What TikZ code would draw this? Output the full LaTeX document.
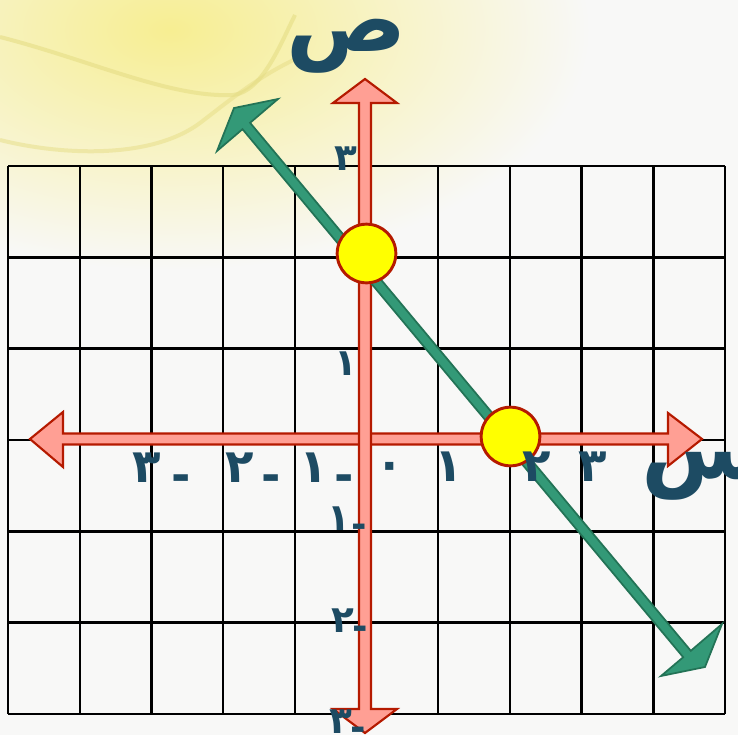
\documentclass[tikz,border=0pt]{standalone}
\usepackage{fontspec}
\newfontfamily\arabicfont[Script=Arabic]{DejaVu Sans}
\TeXXeTstate=1
\definecolor{bg}{HTML}{F8F8F7}
\definecolor{txt}{HTML}{1D4B63}
\definecolor{axred}{HTML}{B51A00}
\definecolor{axfill}{HTML}{FF9F94}
\definecolor{grn}{HTML}{339977}
\definecolor{grnd}{HTML}{237356}
\definecolor{ylw}{HTML}{FFFF00}
\definecolor{wash}{HTML}{F7EE92}
\definecolor{washline}{HTML}{E6DD85}
\newcommand\negbar{\raisebox{-0.2em}{-}}
\begin{document}
\begin{tikzpicture}[x=0.75pt,y=-0.75pt,
  gridline/.style={black,line width=1.8pt},
  axis/.style={fill=axfill,draw=axred,line width=1.6pt,line join=miter},
  slope/.style={fill=grn,draw=grnd,line width=1.3pt,line join=miter},
  dot/.style={circle,fill=ylw,draw=axred,line width=2.2pt,minimum size=44pt,inner sep=0pt},
  numx/.style={text=txt,font=\arabicfont\bfseries\fontsize{35}{35}\selectfont,inner sep=0pt},
  numy/.style={text=txt,font=\arabicfont\bfseries\fontsize{28}{28}\selectfont,inner sep=0pt},
  big/.style={text=txt,font=\arabicfont\bfseries\fontsize{67}{67}\selectfont,inner sep=0pt}]
\useasboundingbox (0,0) rectangle (738,735);
\fill[bg] (0,0) rectangle (738,735);
% yellow wash in the top-left corner
\begin{scope}
\clip (0,0) rectangle (738,735);
\shade[inner color=wash, outer color=bg] (170,30) ellipse [x radius=420, y radius=240];
\draw[washline, line width=3pt, opacity=0.6] (0,37) .. controls (90,60) and (170,98) .. (233,95) .. controls (262,92) and (280,45) .. (295,15);
\draw[washline, line width=3pt, opacity=0.5] (0,140) .. controls (60,155) and (150,160) .. (200,123) .. controls (230,100) and (260,75) .. (300,57);
\end{scope}
% grid
\foreach \i in {0,...,10} \draw[gridline] ({8+71.7*\i},166) -- ({8+71.7*\i},714);
\foreach \j in {0,...,6} \draw[gridline] (8,{166+91.33*\j}) -- (725,{166+91.33*\j});
% axes
\draw[axis] (30,439) -- (63,412) -- (63,433.5) -- (668,433.5) -- (668,413) -- (702,439)
  -- (668,466) -- (668,444.5) -- (63,444.5) -- (63,467) -- cycle;
\draw[axis] (365,79) -- (397,103) -- (371,103) -- (371,709) -- (397,709) -- (365,733)
  -- (333,709) -- (359,709) -- (359,103) -- (333,103) -- cycle;
% line
\draw[slope] (234,108) -- (278,99) -- (250.1,122.8) -- (690.8,650.8) -- (722,624) -- (705,667)
  -- (661,676) -- (683.2,657.2) -- (242.5,129.2) -- (217,151) -- cycle;
% intercepts
\node[dot] (yint) at (366.5,253.5) {};
\node[dot] (xint) at (510.5,436.5) {};
% axis letters
\node[big,anchor=base] (sad) at (347,52) {\beginR ص\endR};
\node[big,anchor=base west] (sin) at (641,478) {\beginR س\endR};
% x labels
\node[numx,anchor=base] (xm3) at (162,482) {٣\hspace{8pt}\negbar};
\node[numx,anchor=base] (xm2) at (253,482) {٢\hspace{6pt}\negbar};
\node[numx,anchor=base] (xm1) at (327,482) {١\hspace{5pt}\negbar};
\node[numx] (x0) at (390,471) {٠};
\node[numx,anchor=base] (x1) at (449,481) {١};
\node[numx,anchor=base] (x2) at (537,481) {٢};
\node[numx,anchor=base] (x3) at (593,481) {٣};
% y labels
\node[numy,anchor=base] (y3) at (346,170) {٣};
\node[numy,anchor=base] (y1) at (346,375) {١};
\node[numy,anchor=base] (ym1) at (347.5,530) {١\hspace{1pt}\negbar};
\node[numy,anchor=base] (ym2) at (350,632) {٢\hspace{-1pt}\negbar};
\node[numy,anchor=base] (ym3) at (348,733) {٣\hspace{-1pt}\negbar};
\end{tikzpicture}
\end{document}
